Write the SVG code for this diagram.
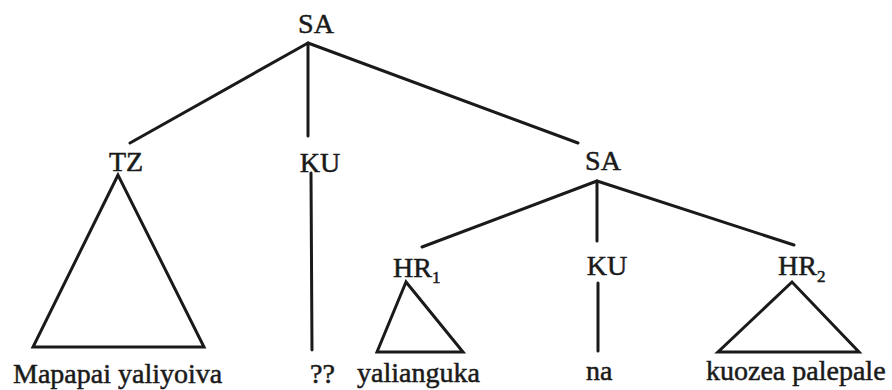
<svg xmlns="http://www.w3.org/2000/svg" width="892" height="390" viewBox="0 0 892 390">
<style>
text{font-family:"Liberation Serif","Times New Roman",serif;font-size:28px;fill:#1a1a1a;stroke:#1a1a1a;stroke-width:0.5}
.m{text-anchor:middle}
.sub{font-size:17px}
.e{stroke:#1a1a1a;stroke-width:3;fill:none;stroke-linecap:round;stroke-linejoin:miter}
</style>
<rect width="892" height="390" fill="#ffffff"/>
<g id="connectors">
<line class="e" x1="308" y1="43" x2="130" y2="143"/>
<line class="e" x1="308" y1="44" x2="308" y2="136"/>
<line class="e" x1="308" y1="43" x2="578" y2="143"/>
<line class="e" x1="311" y1="173" x2="312" y2="350"/>
<polygon class="e" points="118,175 33,347 204,347"/>
<line class="e" x1="597" y1="181" x2="422" y2="247"/>
<line class="e" x1="597" y1="182" x2="597" y2="241"/>
<line class="e" x1="597" y1="181" x2="794" y2="245"/>
<polygon class="e" points="406,282 377,352 463,352"/>
<line class="e" x1="598" y1="283" x2="598" y2="351"/>
<polygon class="e" points="792,282 718,352 859,352"/>
</g>
<g id="n-sa-top"><text class="m" x="316" y="33">SA</text></g>
<g id="n-tz"><text class="m" x="126" y="171">TZ</text></g>
<g id="n-ku1"><text class="m" x="320" y="172">KU</text></g>
<g id="n-sa2"><text class="m" x="603" y="170">SA</text></g>
<g id="n-hr1"><text x="393" y="277">HR<tspan class="sub" dy="6">1</tspan></text></g>
<g id="n-ku2"><text class="m" x="607" y="275">KU</text></g>
<g id="n-hr2"><text x="778" y="275">HR<tspan class="sub" dy="7">2</tspan></text></g>
<g id="l-mapapai"><text x="13" y="383">Mapapai yaliyoiva</text></g>
<g id="l-qq"><text x="310" y="383">??</text></g>
<g id="l-yalianguka"><text x="357" y="382">yalianguka</text></g>
<g id="l-na"><text x="586" y="380">na</text></g>
<g id="l-kuozea"><text x="706" y="380">kuozea palepale</text></g>
</svg>
